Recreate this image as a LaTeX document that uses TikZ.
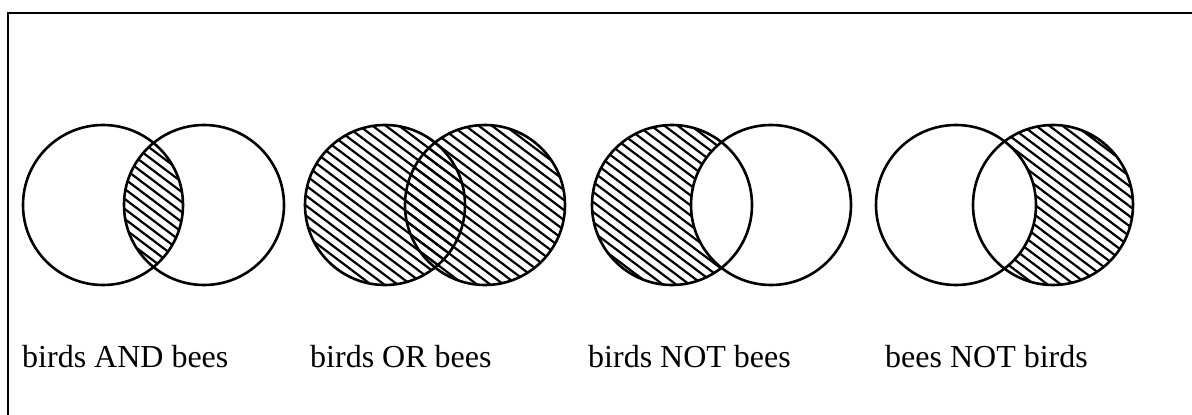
\documentclass[tikz,border=0pt]{standalone}
\usepackage{fontspec}
\setmainfont{Liberation Serif}
\usetikzlibrary{positioning}

% hatching of one circle, centred on a named coordinate
% (one global set of lines, so overlaps line up)
\newcommand{\hatchat}[1]{%
  \begin{scope}
    \clip (#1) circle (80);
    \foreach \k in {0,...,122}
      \draw[hatch] (0,\k*10) -- ++(1192,-898.3);
  \end{scope}}

\begin{document}
\begin{tikzpicture}[x=1pt, y=1pt,
  ring/.style={line width=2.6pt},
  hatch/.style={line width=2.2pt},
  frame/.style={line width=2pt},
  label/.style={anchor=base west, inner sep=0pt, font=\fontsize{32}{38}\selectfont}]
\useasboundingbox (0,0) rectangle (1192,415);
\draw[frame] (8,0) -- (8,402) -- (1192,402);

\coordinate (andL) at (103,210); \coordinate (andR) at (204,210);
\coordinate (orL) at (385,210);  \coordinate (orR) at (485,210);
\coordinate (notL) at (672,210); \coordinate (notR) at (771,210);
\coordinate (eesL) at (956,210); \coordinate (eesR) at (1053,210);

% birds AND bees
\begin{scope}
  \clip (andL) circle (80);
  \hatchat{andR}
\end{scope}
% birds OR bees
\hatchat{orL} \hatchat{orR}
% birds NOT bees
\hatchat{notL}
\fill[white] (notR) circle (80);
% bees NOT birds
\hatchat{eesR}
\fill[white] (eesL) circle (80);

\foreach \c in {andL,andR,orL,orR,notL,notR,eesL,eesR}
  \draw[ring] (\c) circle (80);

\node[label] (lblAnd) at (22,47) {birds AND bees};
\node[label] (lblOr) at (310,47) {birds OR bees};
\node[label] (lblNot) at (588,47) {birds NOT bees};
\node[label] (lblEes) at (885,47) {bees NOT birds};
\end{tikzpicture}
\end{document}
